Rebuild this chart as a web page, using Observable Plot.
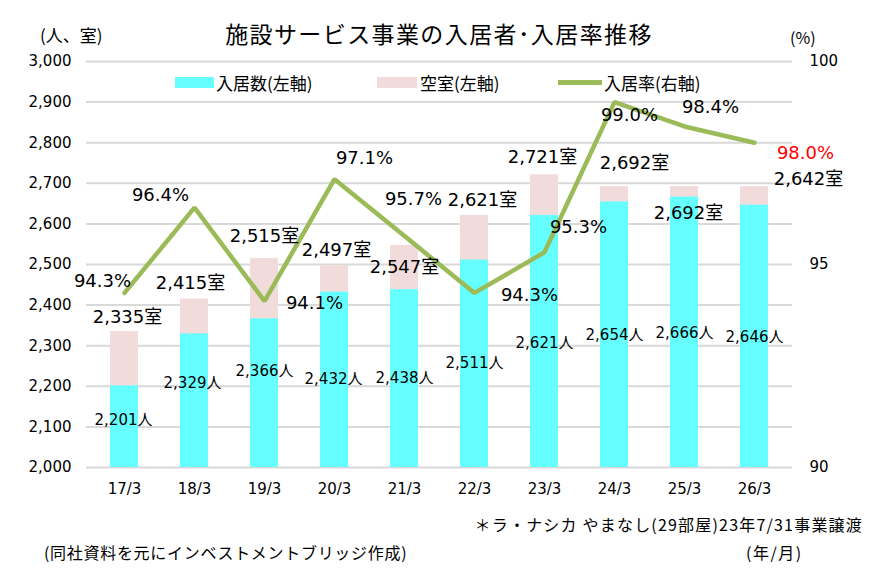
<!DOCTYPE html>
<html><head><meta charset="utf-8">
<script src="https://cdn.jsdelivr.net/npm/d3@7"></script>
<script src="https://cdn.jsdelivr.net/npm/@observablehq/plot@0.6"></script>
<style>
body{margin:0;background:#fff;}
#wrap{position:relative;width:880px;height:579px;overflow:hidden;font-family:"Noto Sans CJK JP","Noto Sans",sans-serif;color:#000;}
#wrap svg{position:absolute;left:0;top:0;}
.t{position:absolute;white-space:nowrap;line-height:1;}
.sw{position:absolute;}
</style></head>
<body><div id="wrap"></div>
<script>
// ---- data ----
const categories = ["17/3","18/3","19/3","20/3","21/3","22/3","23/3","24/3","25/3","26/3"];
const occupied = [2201,2329,2366,2432,2438,2511,2621,2654,2666,2646];
const rooms = [2335,2415,2515,2497,2547,2621,2721,2692,2692,2692];
const roomLabelValues = [2335,2415,2515,2497,2547,2621,2721,2692,2692,2642];
const rates = [94.3,96.4,94.1,97.1,95.7,94.3,95.3,99.0,98.4,98.0];
const leftTicks = [2000,2100,2200,2300,2400,2500,2600,2700,2800,2900,3000];
const rightTicks = [90,95,100];

// ---- layout (label nudges, px) ----
const rateNudge = [[-22,-12],[-34,-12],[50,2],[30,-21],[9,-37],[55,2],[34,-25],[15,13],[26,-19],[51,11]];
const roomNudge = [[3,-14],[-4,-16],[0,-22],[2,-15],[0,22],[8,-15],[-2,-18],[20,-23],[4,27],[54,-7]];
const occNudge = [[-1,34],[-2,49],[0,52],[-1,87],[0,89],[0,103],[0,128],[0,133],[0,136],[0,132]];

const toLeft = r => 2000 + (r - 90) * 100;
const idx = categories.map((_, i) => i);
const fmt = d3.format(",");
const numFont = "'DejaVu Sans','Noto Sans CJK JP',sans-serif";

function labelMarks(textFn, yFn, nudge, opts) {
  return idx.map(i => Plot.text([i], {
    x: d => categories[d], y: d => yFn(d), text: d => textFn(d),
    dx: nudge[i][0], dy: nudge[i][1], fontFamily: numFont, ...(typeof opts === "function" ? opts(i) : opts)
  }));
}

const chart = Plot.plot({
  width: 880, height: 579,
  marginTop: 61, marginBottom: 112, marginLeft: 86, marginRight: 88,
  x: {type: "band", domain: categories, paddingInner: 0.6, paddingOuter: 0.3, label: null},
  y: {domain: [2000, 3000], label: null},
  style: {fontFamily: numFont, fontSize: "15px", color: "#000", background: "transparent", overflow: "visible"},
  marks: [
    Plot.gridY(leftTicks, {stroke: "#d9d9d9", strokeWidth: 2, strokeOpacity: 1}),
    Plot.axisY(leftTicks, {anchor: "left", tickSize: 0, tickPadding: 15, tickFormat: fmt, label: null, fontSize: 15}),
    Plot.axisY(rightTicks.map(toLeft), {anchor: "right", tickSize: 0, tickPadding: 17, textAnchor: "start",
      tickFormat: d => String(Math.round(90 + (d - 2000) / 100)), label: null, fontSize: 15}),
    Plot.axisX({tickSize: 0, tickPadding: 16, label: null, fontSize: 15}),
    Plot.barY(idx, {x: i => categories[i], y1: 2000, y2: i => rooms[i], fill: "#F2DCDB"}),
    Plot.barY(idx, {x: i => categories[i], y1: 2000, y2: i => occupied[i], fill: "#66FFFF"}),
    Plot.line(idx, {x: i => categories[i], y: i => toLeft(rates[i]), stroke: "#9BBB59", strokeWidth: 4.5, strokeLinejoin: "miter"}),
    ...labelMarks(i => fmt(occupied[i]) + "人", i => occupied[i], occNudge, {fontSize: 15}),
    ...labelMarks(i => fmt(roomLabelValues[i]) + "室", i => rooms[i], roomNudge, {fontSize: 18}),
    ...labelMarks(i => rates[i].toFixed(1) + "%", i => toLeft(rates[i]), rateNudge,
      i => ({fontSize: 18, fill: i === categories.length - 1 ? "#FF0000" : "#000"}))
  ]
});

const wrap = document.getElementById("wrap");
wrap.appendChild(chart);

function txt(s, left, cy, size, extra) {
  const d = document.createElement("div");
  d.className = "t"; d.textContent = s;
  d.style.fontSize = size + "px";
  d.style.left = left + "px";
  d.style.top = (cy - size / 2) + "px";
  if (extra) Object.assign(d.style, extra);
  wrap.appendChild(d);
  return d;
}
function sw(left, top, w, h, color) {
  const d = document.createElement("div");
  d.className = "sw";
  Object.assign(d.style, {left: left + "px", top: top + "px", width: w + "px", height: h + "px", background: color});
  wrap.appendChild(d);
}

txt("施設サービス事業の入居者･入居率推移", 0, 33, 23, {width: "878px", textAlign: "center", letterSpacing: "1.4px"});
txt("(人、室)", 40, 34, 17);
txt("(%)", 790, 37, 16);

sw(175, 77, 39, 11, "#66FFFF");
txt("入居数(左軸)", 216, 82, 17);
sw(377, 77, 40, 11, "#F2DCDB");
txt("空室(左軸)", 420, 82, 17);
sw(558, 80, 44, 4.5, "#9BBB59");
txt("入居率(右軸)", 604, 82, 17);

txt("＊ラ・ナシカ やまなし(29部屋)23年7/31事業譲渡", 0, 524, 16, {left: "auto", right: "17px", letterSpacing: "1.2px"});
txt("(同社資料を元にインベストメントブリッジ作成)", 44, 552, 16, {letterSpacing: "0.7px"});
txt("(年/月)", 746, 552, 16, {letterSpacing: "1.5px"});
</script>
</body></html>
